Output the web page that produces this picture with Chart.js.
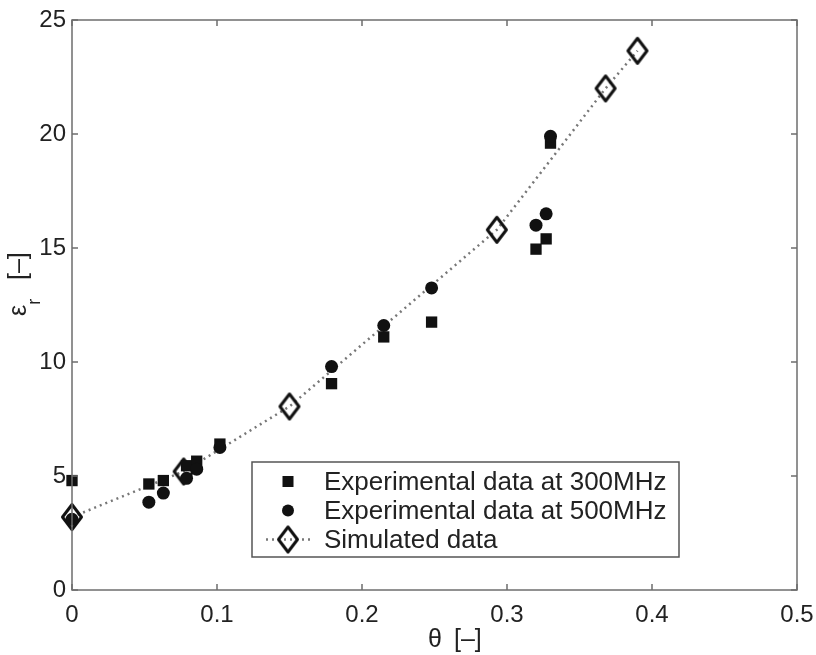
<!DOCTYPE html>
<html>
<head>
<meta charset="utf-8">
<script src="https://cdn.jsdelivr.net/npm/chart.js@4/dist/chart.umd.min.js"></script>
<style>
  html, body { margin: 0; padding: 0; background: #fff; }
  #wrap { width: 816px; height: 655px; }
</style>
</head>
<body>
<div id="wrap"><canvas id="grafico" width="816" height="655"></canvas></div>
<script>
// valores (theta [-], eps_r [-])
const simTheta = [0, 0.077, 0.150, 0.293, 0.368, 0.390];
const simEps = [3.2, 5.2, 8.05, 15.8, 22.0, 23.65];

const exp300Theta = [0, 0.053, 0.063, 0.079, 0.086, 0.102, 0.179, 0.215, 0.248, 0.320, 0.327, 0.330];
const exp300Eps = [4.8, 4.65, 4.8, 5.45, 5.65, 6.4, 9.05, 11.1, 11.75, 14.95, 15.4, 19.6];

const exp500Theta = [0, 0.053, 0.063, 0.079, 0.086, 0.102, 0.179, 0.215, 0.248, 0.320, 0.327, 0.330];
const exp500Eps = [3.1, 3.85, 4.25, 4.9, 5.3, 6.25, 9.8, 11.6, 13.25, 16.0, 16.5, 19.9];

const xTicks = [0, 0.1, 0.2, 0.3, 0.4, 0.5];
const xTickLabels = ["0", "0.1", "0.2", "0.3", "0.4", "0.5"];
const yTicks = [0, 5, 10, 15, 20, 25];
const yTickLabels = ["0", "5", "10", "15", "20", "25"];

const labels = ["Experimental data at 300MHz", "Experimental data at 500MHz", "Simulated data"];

const FONT = "'Liberation Sans', Arial, Helvetica, sans-serif";
const TXT = "#222";
const AXIS = "#6e6e6e";

// losango estilo matlab: mais alto que largo, sem preenchimento
const losango = document.createElement("canvas");
losango.width = 26;
losango.height = 32;
(function () {
  const c = losango.getContext("2d");
  c.strokeStyle = "#111";
  c.lineWidth = 3;
  c.lineJoin = "round";
  c.beginPath();
  c.moveTo(13, 3.5);
  c.lineTo(22.5, 16);
  c.lineTo(13, 28.5);
  c.lineTo(3.5, 16);
  c.closePath();
  c.stroke();
})();

const pontos = (xs, ys) => xs.map((x, i) => ({ x: x, y: ys[i] }));

// moldura com ticks para dentro nos 4 lados
const moldura = {
  id: "moldura",
  afterDatasetsDraw(chart) {
    const { ctx, chartArea: a, scales } = chart;
    ctx.save();
    ctx.strokeStyle = AXIS;
    ctx.lineWidth = 1.5;
    ctx.strokeRect(a.left, a.top, a.right - a.left, a.bottom - a.top);
    ctx.beginPath();
    xTicks.forEach((v) => {
      const px = scales.x.getPixelForValue(v);
      ctx.moveTo(px, a.bottom); ctx.lineTo(px, a.bottom - 6);
      ctx.moveTo(px, a.top); ctx.lineTo(px, a.top + 6);
    });
    yTicks.forEach((v) => {
      const py = scales.y.getPixelForValue(v);
      ctx.moveTo(a.left, py); ctx.lineTo(a.left + 6, py);
      ctx.moveTo(a.right, py); ctx.lineTo(a.right - 6, py);
    });
    ctx.stroke();
    ctx.restore();
  },
  afterDraw(chart) {
    const ctx = chart.ctx;
    ctx.save();
    ctx.fillStyle = TXT;
    // titulo x
    ctx.font = "25px " + FONT;
    ctx.textBaseline = "alphabetic";
    ctx.textAlign = "left";
    ctx.fillText("\u03b8", 428, 647);
    ctx.fillText("[\u2013]", 454, 647);
    // titulo y com subscrito
    ctx.translate(26, 316);
    ctx.rotate(-Math.PI / 2);
    ctx.font = "25px " + FONT;
    ctx.fillText("\u03b5", 0, 0);
    const w = ctx.measureText("\u03b5").width;
    ctx.font = "18px " + FONT;
    ctx.fillText("r", w, 14);
    ctx.font = "25px " + FONT;
    ctx.fillText("[\u2013]", 36, 0);
    ctx.restore();
  }
};

// legenda desenhada dentro da area do grafico
const legenda = {
  id: "legenda",
  afterDraw(chart) {
    const ctx = chart.ctx;
    const bx = 252, by = 462, bw = 427, bh = 95;
    ctx.save();
    ctx.fillStyle = "#fff";
    ctx.fillRect(bx, by, bw, bh);
    ctx.strokeStyle = "#555";
    ctx.lineWidth = 1.5;
    ctx.strokeRect(bx, by, bw, bh);
    const mx = 288;
    const rows = [481.5, 510.5, 539.5];
    // quadrado
    ctx.fillStyle = "#111";
    ctx.fillRect(mx - 5.5, rows[0] - 5.5, 11, 11);
    // circulo
    ctx.beginPath();
    ctx.arc(mx, rows[1], 6, 0, Math.PI * 2);
    ctx.fill();
    // linha pontilhada + losango
    ctx.strokeStyle = "#777";
    ctx.lineWidth = 2.5;
    ctx.setLineDash([2, 4]);
    ctx.beginPath();
    ctx.moveTo(266, rows[2]);
    ctx.lineTo(312, rows[2]);
    ctx.stroke();
    ctx.setLineDash([]);
    ctx.drawImage(losango, mx - losango.width / 2, rows[2] - losango.height / 2);
    ctx.fillStyle = TXT;
    ctx.font = "26px " + FONT;
    ctx.textBaseline = "middle";
    labels.forEach((t, i) => ctx.fillText(t, 324, rows[i] + 1));
    ctx.restore();
  }
};

const chart = new Chart(document.getElementById("grafico"), {
  type: "scatter",
  data: {
    datasets: [
      {
        label: labels[2],
        data: pontos(simTheta, simEps),
        showLine: true,
        borderColor: "#777",
        borderWidth: 2.5,
        borderDash: [2, 4],
        tension: 0,
        pointStyle: losango,
        pointRadius: 12,
        clip: false,
        order: 3,
      },
      {
        label: labels[0],
        data: pontos(exp300Theta, exp300Eps),
        pointStyle: "rect",
        pointRadius: 8,
        backgroundColor: "#111",
        borderColor: "#111",
        borderWidth: 0,
        clip: false,
        order: 2,
      },
      {
        label: labels[1],
        data: pontos(exp500Theta, exp500Eps),
        pointStyle: "circle",
        pointRadius: 6.5,
        backgroundColor: "#111",
        borderColor: "#111",
        borderWidth: 0,
        clip: false,
        order: 1,
      },
    ],
  },
  options: {
    responsive: false,
    animation: false,
    devicePixelRatio: 1,
    layout: { padding: { top: 20, right: 19, left: 0, bottom: 0 } },
    plugins: { legend: { display: false }, tooltip: { enabled: false } },
    scales: {
      x: {
        type: "linear",
        min: 0,
        max: 0.5,
        afterBuildTicks: (s) => { s.ticks = xTicks.map((v) => ({ value: v })); },
        afterFit: (s) => { s.height = 65; s.paddingLeft = 0; s.paddingRight = 0; },
        grid: { display: false, drawTicks: false },
        border: { display: false },
        ticks: {
          padding: 11,
          color: TXT,
          font: { size: 24, family: FONT },
          maxRotation: 0,
          callback: (v) => xTickLabels[xTicks.indexOf(v)],
        },
      },
      y: {
        type: "linear",
        min: 0,
        max: 25,
        afterBuildTicks: (s) => { s.ticks = yTicks.map((v) => ({ value: v })); },
        afterFit: (s) => { s.width = 72; s.paddingTop = 0; s.paddingBottom = 0; },
        grid: { display: false, drawTicks: false },
        border: { display: false },
        ticks: {
          padding: 6,
          color: TXT,
          font: { size: 24, family: FONT },
          callback: (v) => yTickLabels[yTicks.indexOf(v)],
        },
      },
    },
  },
  plugins: [moldura, legenda],
});
</script>
</body>
</html>
